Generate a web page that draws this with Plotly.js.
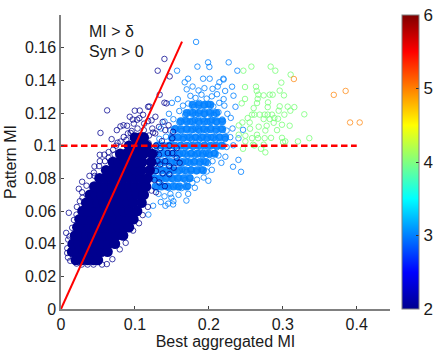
<!DOCTYPE html>
<html><head><meta charset="utf-8">
<script src="https://cdn.plot.ly/plotly-3.0.1.min.js"></script>
<style>html,body{margin:0;padding:0;background:#fff}</style></head>
<body><div id="chart" style="width:441px;height:356px"></div>
<script>
const yTicks=[0,0.02,0.04,0.06,0.08,0.1,0.12,0.14,0.16];
const yTickText=["0","0.02","0.04","0.06","0.08","0.1","0.12","0.14","0.16"];
const xTicks=[0,0.1,0.2,0.3,0.4];
const xTickText=["0","0.1","0.2","0.3","0.4"];
const identityX=[0,0.1637];
const identityY=[0,0.1637];
const thresholdX=[0,0.4];
const thresholdY=[0.1,0.1];
const coreY=[0.03,0.035,0.04,0.045,0.05,0.055,0.06,0.065,0.07,0.075,0.08,0.085,0.09,0.095,0.1,0.105];
const coreX=[
[0.020,0.028,0.036,0.044,0.050],
[0.015,0.023,0.031,0.039,0.047,0.055,0.063],
[0.016,0.024,0.032,0.040,0.048,0.056,0.064,0.073],
[0.019,0.027,0.035,0.043,0.051,0.059,0.067,0.075,0.084],
[0.022,0.030,0.038,0.046,0.054,0.062,0.070,0.078,0.086,0.092],
[0.025,0.033,0.041,0.049,0.057,0.065,0.073,0.081,0.089,0.098],
[0.029,0.037,0.045,0.053,0.061,0.069,0.077,0.085,0.093,0.103],
[0.034,0.042,0.050,0.058,0.066,0.074,0.082,0.090,0.098,0.109],
[0.039,0.047,0.055,0.063,0.071,0.079,0.087,0.095,0.103,0.112],
[0.045,0.053,0.061,0.069,0.077,0.085,0.093,0.101,0.109,0.115],
[0.052,0.060,0.068,0.076,0.084,0.092,0.100,0.108,0.117],
[0.061,0.069,0.077,0.085,0.093,0.101,0.109,0.120],
[0.070,0.078,0.086,0.094,0.102,0.110,0.122],
[0.080,0.088,0.096,0.104,0.112,0.123],
[0.092,0.100,0.108,0.116],
[0.100,0.107,0.112]];
const darkPts=[
[0.1399,0.1531],[0.1308,0.1459],[0.147,0.1424],[0.0624,0.1216],[0.0534,0.1078],[0.1335,0.1312],[0.1399,0.1263],[0.1426,0.1259],
[0.1178,0.1238],[0.1195,0.1240],[0.0998,0.1214],[0.0930,0.1177],[0.1110,0.1189],[0.0804,0.1118],[0.0894,0.1122],[0.1030,0.1159],
[0.097,0.116],[0.1277,0.1177],[0.1178,0.115],[0.0525,0.0944],[0.0644,0.0961],[0.0453,0.0873],[0.0765,0.1018],[0.0848,0.1053],
[0.0942,0.1078],[0.0106,0.0589],[0.0286,0.0779],[0.0241,0.0736],[0.007,0.0466],[0.0097,0.0425],[0.0084,0.0343],[0.029,0.0681],
[0.021,0.0578],[0.0151,0.0497],[0.0128,0.0394],[0.0595,0.0905],[0.0705,0.0975],[0.0745,0.1],[0.0805,0.1025],[0.0885,0.1035],
[0.0955,0.109],[0.1035,0.1105],[0.112,0.1095],[0.119,0.1062],[0.106,0.1168],[0.1235,0.1105],[0.1325,0.1115],[0.141,0.1095],
[0.1125,0.1135],[0.12,0.098],[0.1285,0.1],[0.1365,0.1028],[0.1465,0.1],[0.1245,0.108],[0.1325,0.0945],[0.141,0.0905],[0.1505,0.0955],
[0.1285,0.0845],[0.134,0.0885],[0.1375,0.083],[0.1465,0.0875],[0.1265,0.079],[0.133,0.0775],[0.1405,0.0752],[0.1225,0.0725],[0.1285,0.0715],
[0.1175,0.0625],[0.1105,0.0575],[0.1055,0.0525],[0.0975,0.048],[0.0875,0.0405],[0.0795,0.0365],[0.0695,0.0305],[0.062,0.0275],
[0.0555,0.0272],[0.044,0.0272],[0.036,0.0272],[0.028,0.0272],[0.021,0.0278],[0.0125,0.0295],[0.0095,0.0315],[0.0085,0.0372],[0.0115,0.0445],
[0.0175,0.0545],[0.0215,0.0625],[0.0255,0.066],[0.0285,0.0715],[0.0345,0.0755],[0.0385,0.0815],[0.0445,0.0835],[0.0515,0.0875],[0.0585,0.0945],[0.0685,0.104],[0.0755,0.1095],
[0.0455,0.0815],[0.0525,0.0905],[0.0645,0.0925],[0.0725,0.0945],[0.1305,0.0905],[0.1345,0.0985],[0.1445,0.0955],[0.1505,0.1045],[0.1565,0.0985],
[0.1225,0.1155],[0.1275,0.1075],[0.1135,0.1045],[0.1375,0.1145],[0.1455,0.1125],[0.1515,0.1085],[0.1565,0.0925],[0.1465,0.0825],[0.1525,0.0865],[0.1605,0.0895],
[0.0845,0.1125],[0.0985,0.1135],[0.1065,0.1215],[0.0905,0.1075],[0.1275,0.0955],[0.1185,0.1015],[0.1265,0.0885]];
const bluePts=[
[0.1827,0.1635],[0.1989,0.151],[0.2007,0.1482],[0.2268,0.151],[0.1845,0.1484],[0.2385,0.1459],[0.157,0.1459],[0.1719,0.141],[0.1673,0.1388],
[0.1922,0.141],[0.2011,0.141],[0.2196,0.141],[0.2142,0.1388],[0.22,0.1405],[0.2314,0.1361],[0.2333,0.1306],[0.236,0.1238],[0.2296,0.117],
[0.2462,0.1097],[0.24,0.0913],[0.2327,0.0871],[0.2435,0.084],[0.2223,0.0932],[0.2169,0.0895],
[0.1993,0.0785],[0.1777,0.0773],[0.1696,0.0664],[0.159,0.0699],[0.1493,0.0681],[0.1412,0.0632],[0.1516,0.064],[0.1182,0.0578],[0.1246,0.0632],
[0.170,0.1345],[0.178,0.1362],[0.186,0.1338],[0.194,0.1352],[0.205,0.1348],[0.212,0.1362],[0.222,0.1335],
[0.158,0.1285],[0.175,0.1305],[0.182,0.1292],[0.190,0.1312],[0.197,0.1288],[0.204,0.1302],[0.211,0.1315],[0.220,0.1285],
[0.150,0.1262],[0.165,0.1245],[0.172,0.1258],[0.180,0.1238],[0.187,0.1262],[0.193,0.1245],[0.199,0.1255],[0.206,0.124],[0.214,0.1262],[0.221,0.1245],
[0.146,0.1195],[0.160,0.1212],[0.168,0.1188],[0.175,0.1208],[0.182,0.119],[0.188,0.1212],[0.194,0.1192],[0.200,0.1208],[0.207,0.1188],[0.213,0.1205],[0.225,0.1195],
[0.140,0.1148],[0.152,0.1162],[0.160,0.1142],[0.168,0.116],[0.175,0.1145],[0.181,0.1158],[0.187,0.114],[0.192,0.1162],[0.198,0.1145],[0.204,0.1158],[0.211,0.1142],[0.218,0.116],
[0.135,0.1105],[0.148,0.1092],[0.155,0.1108],[0.163,0.109],[0.170,0.1105],[0.176,0.1092],[0.182,0.1108],[0.187,0.109],[0.192,0.1105],[0.197,0.1092],[0.203,0.1108],[0.209,0.109],[0.216,0.1105],[0.224,0.1092],[0.232,0.1105],
[0.133,0.1042],[0.142,0.1055],[0.150,0.1038],[0.158,0.1055],[0.165,0.104],[0.171,0.1055],[0.177,0.1038],[0.182,0.1052],[0.187,0.1038],[0.192,0.1055],[0.197,0.104],[0.203,0.1052],[0.209,0.1038],[0.215,0.1055],[0.222,0.104],[0.229,0.1052],[0.240,0.1045],
[0.130,0.1005],[0.140,0.099],[0.148,0.1006],[0.155,0.0992],[0.162,0.1005],[0.168,0.099],[0.174,0.1006],[0.179,0.0992],[0.184,0.1005],[0.189,0.099],[0.194,0.1006],[0.199,0.0992],[0.205,0.1005],[0.211,0.099],[0.217,0.1006],[0.224,0.0992],[0.233,0.1002],
[0.128,0.0945],[0.138,0.0955],[0.145,0.094],[0.152,0.0955],[0.159,0.0942],[0.165,0.0955],[0.171,0.094],[0.176,0.0955],[0.181,0.0942],[0.186,0.0955],[0.191,0.094],[0.196,0.0955],[0.201,0.0942],[0.207,0.0955],[0.213,0.094],
[0.128,0.0905],[0.136,0.089],[0.143,0.0905],[0.150,0.0892],[0.157,0.0905],[0.163,0.089],[0.169,0.0905],[0.175,0.0892],[0.181,0.0905],[0.187,0.089],[0.193,0.0905],[0.199,0.0892],[0.205,0.0905],
[0.127,0.0845],[0.135,0.0855],[0.142,0.084],[0.150,0.0855],[0.158,0.0842],[0.164,0.0855],[0.170,0.084],[0.176,0.0855],[0.183,0.0842],[0.190,0.0855],[0.197,0.0842],[0.204,0.0852],
[0.128,0.0805],[0.136,0.079],[0.144,0.0805],[0.152,0.0792],[0.160,0.0805],[0.168,0.079],[0.175,0.0805],[0.184,0.0792],[0.193,0.0805],
[0.130,0.0745],[0.138,0.0755],[0.146,0.074],[0.155,0.0755],[0.163,0.074],[0.172,0.0752],[0.181,0.0742],
[0.132,0.0705],[0.140,0.069],[0.148,0.0705],[0.158,0.0745],[0.172,0.0705],[0.135,0.0655],[0.145,0.0645],[0.152,0.066]];
const blueFillX=[0.178,0.186,0.194,0.202,0.170,0.178,0.186,0.194,0.202,0.210,0.162,0.170,0.178,0.186,0.194,0.202,0.210,0.218,0.154,0.162,0.170,0.178,0.186,0.194,0.202,0.210,0.218,0.150,0.158,0.166,0.174,0.182,0.190,0.198,0.206,0.214,0.222,0.130,0.138,0.146,0.154,0.162,0.170,0.178,0.186,0.194,0.202,0.210,0.218,0.128,0.136,0.144,0.152,0.160,0.168,0.176,0.184,0.192,0.200,0.208,0.132,0.140,0.148,0.156,0.164,0.172,0.180,0.188,0.196,0.128,0.136,0.144,0.152,0.160,0.168,0.176,0.184,0.192,0.126,0.134,0.142,0.150,0.158,0.166,0.174,0.128,0.136,0.144,0.152,0.160,0.170];
const blueFillY=[0.125,0.125,0.125,0.125,0.12,0.12,0.12,0.12,0.12,0.12,0.115,0.115,0.115,0.115,0.115,0.115,0.115,0.115,0.11,0.11,0.11,0.11,0.11,0.11,0.11,0.11,0.11,0.105,0.105,0.105,0.105,0.105,0.105,0.105,0.105,0.105,0.105,0.1,0.1,0.1,0.1,0.1,0.1,0.1,0.1,0.1,0.1,0.1,0.1,0.095,0.095,0.095,0.095,0.095,0.095,0.095,0.095,0.095,0.095,0.095,0.09,0.09,0.09,0.09,0.09,0.09,0.09,0.09,0.09,0.085,0.085,0.085,0.085,0.085,0.085,0.085,0.085,0.085,0.08,0.08,0.08,0.08,0.08,0.08,0.08,0.075,0.075,0.075,0.075,0.075,0.075];
const greenX=[0.2575,0.2467,0.2836,0.2899,0.3106,0.2980,0.2489,0.2638,0.2647,0.2669,0.2660,0.2741,0.2823,0.2863,0.2958,0.3016,0.2489,0.2444,0.2651,0.2800,0.2796,0.2606,0.2958,0.2944,0.3066,0.3156,0.3102,0.3291,0.3021,0.2584,0.2615,0.2687,0.2755,0.2854,0.2796,0.2823,0.2741,0.2886,0.2935,0.2877,0.2989,0.3093,0.2525,0.2552,0.2453,0.2404,0.2674,0.2782,0.2764,0.2922,0.2557,0.2651,0.2494,0.2584,0.2665,0.2755,0.2841,0.2989,0.3034,0.3003,0.3205,0.3359,0.2404,0.2494,0.2597,0.2615,0.2741,0.2462,0.2705,0.2764];
const greenY=[0.1484,0.1459,0.1484,0.1459,0.1435,0.1386,0.1359,0.1361,0.1335,0.1312,0.1286,0.1308,0.1312,0.1312,0.1337,0.1308,0.1286,0.1259,0.1261,0.1265,0.1236,0.1230,0.1241,0.1214,0.1239,0.1236,0.1214,0.1192,0.1190,0.1190,0.1190,0.1190,0.1190,0.1190,0.1190,0.1163,0.1163,0.1169,0.1165,0.1140,0.1128,0.1122,0.1169,0.1142,0.1142,0.1124,0.1116,0.1122,0.1093,0.1095,0.1104,0.1067,0.1061,0.1046,0.1046,0.1046,0.1048,0.1048,0.1026,0.1022,0.1026,0.1046,0.1067,0.1026,0.1006,0.1001,0.1006,0.0981,0.0981,0.0959];
const orangeX=[0.315,0.369,0.385,0.391,0.404];
const orangeY=[0.1408,0.1311,0.1335,0.1142,0.1142];
const jet=[[0,"#00008f"],[0.125,"#0000ff"],[0.375,"#00ffff"],[0.5,"#80ff80"],[0.625,"#ffff00"],[0.875,"#ff0000"],[1,"#800000"]];

const font={family:"Liberation Sans, Arial, sans-serif",size:16,color:"#1a1a1a"};
function points(x,y,level,symbol,size,lw,op){
  return {type:"scatter",mode:"markers",x:x,y:y,hoverinfo:"skip",showlegend:false,
    marker:{symbol:symbol,size:size,opacity:op,color:x.map(()=>level),cmin:2,cmax:6,colorscale:jet,showscale:false,line:{width:lw}}};
}
const coreXFlat=coreX.flat();
const coreYFlat=coreX.flatMap((r,i)=>r.map(()=>coreY[i]));
const traces=[
 points(blueFillX,blueFillY,3,"circle",8,0,0.9),
 points(bluePts.map(p=>p[0]),bluePts.map(p=>p[1]),3,"circle-open",5.5,1,0.8),
 points(greenX,greenY,4,"circle-open",5.5,1,0.85),
 points(orangeX,orangeY,5,"circle-open",5.5,1,0.7),
 points(darkPts.map(p=>p[0]),darkPts.map(p=>p[1]),2,"circle-open",5.5,1,0.75),
 points(coreXFlat,coreYFlat,2,"circle",10.5,0,1),
 {type:"scatter",mode:"lines",x:identityX,y:identityY,line:{color:"#ff0000",width:2},hoverinfo:"skip",showlegend:false},
 {type:"scatter",mode:"lines",x:thresholdX,y:thresholdY,line:{color:"#ff0000",width:2.5,dash:"6.5px,3.5px"},hoverinfo:"skip",showlegend:false},
 {type:"scatter",mode:"markers",x:[null],y:[null],hoverinfo:"skip",showlegend:false,
  marker:{color:[2],cmin:2,cmax:6,colorscale:jet,showscale:true,
   colorbar:{x:1.0355,xanchor:"left",xpad:0,y:0,yanchor:"bottom",ypad:0,len:1,lenmode:"fraction",thickness:17,thicknessmode:"pixels",
    tickvals:[2,3,4,5,6],ticktext:["2","3","4","5","6"],ticks:"inside",ticklen:3,tickcolor:"#333",outlinecolor:"#808080",outlinewidth:1,tickfont:{...font,size:17}}}}
];
const layout={width:441,height:356,margin:{l:60.5,r:51,t:15,b:47,autoexpand:false},paper_bgcolor:"#fff",plot_bgcolor:"#fff",font:font,
 xaxis:{range:[0,0.445],tickmode:"array",tickvals:xTicks,ticktext:xTickText,ticks:"inside",ticklen:3,tickcolor:"#444",showgrid:false,zeroline:false,showline:true,linecolor:"#808080",linewidth:1.5,tickfont:font,
  title:{text:"Best aggregated MI",font:font,standoff:0}},
 yaxis:{range:[0,0.18],tickmode:"array",tickvals:yTicks,ticktext:yTickText,ticks:"inside",ticklen:3,tickcolor:"#444",showgrid:false,zeroline:false,showline:true,linecolor:"#808080",linewidth:1.5,tickfont:font,
  title:{text:"Pattern MI",font:font,standoff:4}},
 annotations:[
  {xref:"paper",yref:"paper",x:0.078,y:0.945,xanchor:"left",yanchor:"middle",showarrow:false,text:"MI > δ",font:font},
  {xref:"paper",yref:"paper",x:0.078,y:0.877,xanchor:"left",yanchor:"middle",showarrow:false,text:"Syn > 0",font:font}]
};
Plotly.newPlot("chart",traces,layout,{displayModeBar:false,responsive:false});
</script></body></html>
